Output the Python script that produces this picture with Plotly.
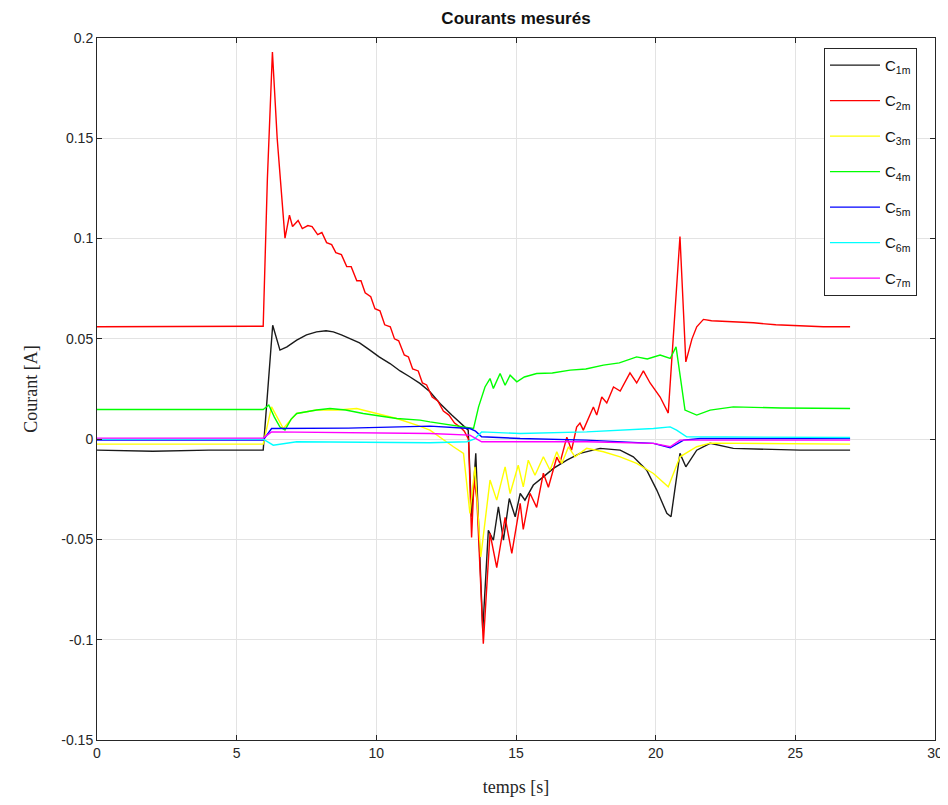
import plotly.graph_objects as go

# ---------------- data ----------------
series_names = ["C<sub>1m</sub>", "C<sub>2m</sub>", "C<sub>3m</sub>", "C<sub>4m</sub>",
                "C<sub>5m</sub>", "C<sub>6m</sub>", "C<sub>7m</sub>"]
series_colors = ["#1a1a1a", "#ff0000", "#ffff00", "#00ff00", "#0000ff", "#00ffff", "#ff00ff"]

t_c1 = [0, 2, 4, 5.95, 6.29, 6.55, 6.8, 7.15, 7.5, 7.86, 8.2, 8.46, 8.75, 9.06, 9.4, 9.77,
        10.1, 10.49, 10.85, 11.21, 11.56, 11.92, 12.28, 12.7, 13.12, 13.29, 13.41, 13.56,
        13.81, 14.01, 14.19, 14.37, 14.55, 14.76, 14.97, 15.15, 15.32, 15.62, 15.98, 16.34,
        16.82, 17.29, 18.01, 18.73, 19.2, 19.68, 20.04, 20.4, 20.55, 20.87, 21.08, 21.47,
        21.95, 22.78, 25.17, 26.96]
v_c1 = [-0.0055, -0.006, -0.0055, -0.0055, 0.0568, 0.0444, 0.046, 0.0494, 0.052, 0.0535,
        0.054, 0.0535, 0.052, 0.0502, 0.048, 0.0444, 0.041, 0.0377, 0.034, 0.031, 0.0278,
        0.0236, 0.0178, 0.012, 0.007, 0.0045, -0.0387, -0.0071, -0.0952, -0.0454, -0.0504,
        -0.0337, -0.0504, -0.0296, -0.0387, -0.0271, -0.0304, -0.0229, -0.0188, -0.0146,
        -0.0105, -0.0071, -0.0046, -0.0055, -0.0088, -0.0155, -0.0254, -0.037, -0.0387,
        -0.0071, -0.0138, -0.0055, -0.0021, -0.0046, -0.0055, -0.0055]

t_c2 = [0, 5.95, 6.1, 6.28, 6.45, 6.73, 6.89, 7.0, 7.2, 7.35, 7.55, 7.7, 7.9, 8.05, 8.22,
        8.4, 8.55, 8.75, 8.94, 9.1, 9.3, 9.45, 9.6, 9.8, 9.95, 10.13, 10.3, 10.5, 10.65,
        10.8, 11.0, 11.15, 11.3, 11.5, 11.65, 11.8, 12.0, 12.2, 12.4, 12.6, 12.8, 13.0,
        13.15, 13.3, 13.41, 13.5, 13.6, 13.83, 14.07, 14.31, 14.61, 14.85, 15.15, 15.26,
        15.5, 15.74, 15.98, 16.16, 16.46, 16.57, 16.82, 16.99, 17.17, 17.29, 17.41, 17.77,
        17.89, 18.07, 18.25, 18.49, 18.73, 19.08, 19.32, 19.56, 19.8, 20.16, 20.45, 20.87,
        21.08, 21.3, 21.47, 21.71, 22.0, 22.78, 23.5, 24.3, 25.17, 26.0, 26.96]
v_c2 = [0.056, 0.0563, 0.13, 0.193, 0.15, 0.1002, 0.1117, 0.106, 0.109, 0.105, 0.1065,
        0.106, 0.102, 0.103, 0.098, 0.097, 0.093, 0.092, 0.086, 0.086, 0.079, 0.079, 0.073,
        0.071, 0.065, 0.064, 0.057, 0.056, 0.050, 0.049, 0.042, 0.041, 0.035, 0.034, 0.028,
        0.027, 0.021, 0.019, 0.014, 0.012, 0.008, 0.006, 0.004, 0.0, -0.049, -0.02, -0.03,
        -0.102, -0.047, -0.064, -0.039, -0.057, -0.032, -0.045, -0.027, -0.034, -0.017,
        -0.024, -0.009, -0.012, 0.001, -0.0055, 0.006, 0.008, 0.0045, 0.016, 0.012, 0.021,
        0.018, 0.026, 0.024, 0.033, 0.028, 0.034, 0.028, 0.021, 0.013, 0.101, 0.0385, 0.05,
        0.056, 0.0597, 0.059, 0.0585, 0.058, 0.057, 0.0563, 0.056, 0.056]

t_c3 = [0, 5.95, 6.25, 6.45, 6.67, 6.9, 7.15, 7.86, 8.6, 9.3, 9.77, 10.73, 11.45, 11.92,
        12.76, 13.12, 13.35, 13.53, 13.74, 14.07, 14.31, 14.61, 14.79, 15.08, 15.26, 15.44,
        15.68, 15.98, 16.22, 16.46, 16.64, 16.88, 17.11, 17.53, 18.13, 18.73, 19.32, 19.92,
        20.45, 20.87, 21.47, 21.95, 26.96]
v_c3 = [-0.0025, -0.0025, 0.0161, 0.011, 0.0053, 0.009, 0.0128, 0.0145, 0.0145, 0.0153,
        0.0136, 0.0103, 0.007, 0.0045, -0.0038, -0.0071, -0.037, -0.0138, -0.0587, -0.0204,
        -0.0304, -0.0138, -0.0271, -0.013, -0.0238, -0.0105, -0.018, -0.0088, -0.0155,
        -0.0063, -0.0121, -0.0038, -0.0088, -0.0046, -0.0063, -0.0088, -0.0121, -0.0171,
        -0.0238, -0.0088, -0.0038, -0.002, -0.0025]

t_c4 = [0, 5.95, 6.15, 6.35, 6.55, 6.73, 6.95, 7.15, 7.86, 8.34, 8.9, 9.53, 10.73, 11.56,
        11.92, 13.24, 13.48, 13.66, 13.89, 14.07, 14.19, 14.43, 14.61, 14.79, 15.03, 15.3,
        15.74, 16.3, 16.94, 17.5, 18.13, 18.7, 19.32, 19.7, 20.16, 20.52, 20.73, 21.05,
        21.47, 21.95, 22.78, 24.5, 26.96]
v_c4 = [0.0148, 0.0148, 0.017, 0.011, 0.006, 0.0045, 0.01, 0.0128, 0.0145, 0.0153, 0.0145,
        0.0128, 0.0103, 0.0095, 0.0086, 0.0061, 0.0053, 0.0161, 0.026, 0.0302, 0.0253,
        0.0327, 0.0269, 0.0319, 0.0286, 0.031, 0.0327, 0.033, 0.0344, 0.035, 0.0369, 0.038,
        0.041, 0.04, 0.0419, 0.0402, 0.046, 0.0145, 0.012, 0.0145, 0.0161, 0.0155, 0.0153]

t_c5 = [0, 5.95, 6.25, 9.0, 11.92, 13.35, 13.55, 13.77, 15.15, 17.53, 19.92, 20.52, 21.0,
        21.6, 26.96]
v_c5 = [-0.0005, -0.0005, 0.0053, 0.0055, 0.0065, 0.0053, 0.004, 0.0012, 0.0003, -0.0005,
        -0.0021, -0.0043, -0.0005, 0.0003, 0.0003]

t_c6 = [0, 5.95, 6.31, 7.15, 11.92, 13.24, 13.5, 13.77, 15.15, 17.53, 19.92, 20.52, 20.75,
        21.11, 26.96]
v_c6 = [0.0, 0.0, -0.003, -0.0013, -0.0018, -0.0013, 0.0, 0.0036, 0.0028, 0.0036, 0.0053,
        0.0061, 0.0045, 0.0012, 0.0008]

t_c7 = [0, 5.95, 6.25, 11.92, 13.35, 13.77, 17.53, 19.92, 20.52, 20.87, 26.96]
v_c7 = [0.0005, 0.0005, 0.0036, 0.0028, 0.002, -0.0013, -0.0013, -0.0021, -0.0038, -0.0005,
        -0.0005]

x_tickvals = [0, 5, 10, 15, 20, 25, 30]
y_tickvals = [-0.15, -0.1, -0.05, 0, 0.05, 0.1, 0.15, 0.2]
y_ticktext = ["-0.15", "-0.1", "-0.05", "0", "0.05", "0.1", "0.15", "0.2"]

# ---------------- figure ----------------
all_t = [t_c1, t_c2, t_c3, t_c4, t_c5, t_c6, t_c7]
all_v = [v_c1, v_c2, v_c3, v_c4, v_c5, v_c6, v_c7]

fig = go.Figure()
for i, (tt, vv) in enumerate(zip(all_t, all_v)):
    fig.add_trace(go.Scatter(
        x=tt, y=vv, mode="lines", name=series_names[i],
        line=dict(color=series_colors[i], width=1.4),
        legendgroup=f"g{i}",
    ))

axis_common = dict(
    showline=True, linecolor="#262626", linewidth=1, mirror="ticks",
    ticks="inside", ticklen=5, tickcolor="#262626",
    showgrid=True, gridcolor="#e3e3e3", gridwidth=1, zeroline=False,
    tickfont=dict(family="Liberation Sans, Arial, sans-serif", size=14, color="#262626"),
)

# page body has an 8px margin: figure is 940x797 so the plot lands where the reference has it
fig.update_layout(
    width=940, height=797,
    paper_bgcolor="white", plot_bgcolor="white",
    margin=dict(l=89, r=13, t=30, b=65, autoexpand=False),
    title=dict(text="<b>Courants mesurés</b>", x=0.5, xref="paper", xanchor="center",
               y=1 - 10 / 797, yref="container", yanchor="middle",
               font=dict(family="Liberation Sans, Arial, sans-serif", size=17, color="#111111")),
    xaxis=dict(range=[0, 30], tickvals=x_tickvals,
               title=dict(text="temps [s]", standoff=20,
                          font=dict(family="Liberation Serif, DejaVu Serif, serif", size=18, color="#262626")),
               **axis_common),
    yaxis=dict(range=[-0.15, 0.2], tickvals=y_tickvals, ticktext=y_ticktext,
               title=dict(text="Courant [A]", standoff=18,
                          font=dict(family="Liberation Serif, DejaVu Serif, serif", size=18, color="#262626")),
               **axis_common),
    legend=dict(x=0.9785, xanchor="right", y=0.986, yanchor="top",
                bgcolor="white", bordercolor="#262626", borderwidth=1,
                font=dict(family="Liberation Sans, Arial, sans-serif", size=15, color="#111111"),
                tracegroupgap=13, itemwidth=50),
    showlegend=True,
)

fig.write_html("out.html")
